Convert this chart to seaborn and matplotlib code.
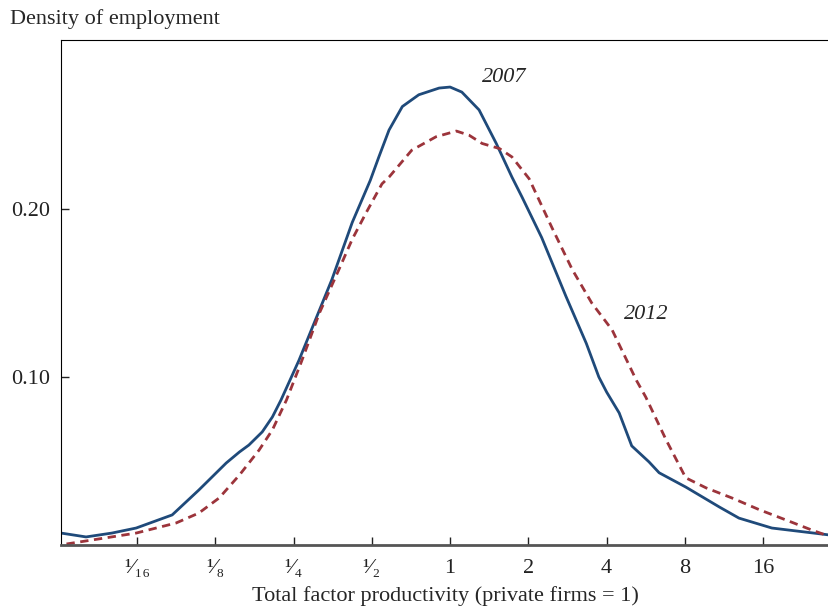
import numpy as np
import pandas as pd
import matplotlib
matplotlib.use("Agg")
import matplotlib.pyplot as plt
import seaborn as sns

# log2 of TFP (private firms = 1) and employment density
x_2007 = [-4.97, -4.65, -4.32, -4.01, -3.55, -3.21, -2.86, -2.69, -2.57, -2.40,
          -2.27, -2.16, -1.93, -1.72, -1.51, -1.25, -1.02, -0.91, -0.78, -0.61,
          -0.40, -0.14, 0.0, 0.15, 0.37, 0.59, 0.79, 0.92, 1.17, 1.48,
          1.74, 1.90, 2.0, 2.16, 2.32, 2.54, 2.67, 3.01, 3.44, 3.69, 4.11, 4.84]
y_2007 = [0.0071, 0.0048, 0.0071, 0.0101, 0.0179, 0.0327, 0.0488, 0.0554, 0.0595, 0.0673,
          0.0762, 0.0863, 0.110, 0.134, 0.158, 0.192, 0.217, 0.231, 0.247, 0.261,
          0.268, 0.272, 0.2726, 0.2696, 0.259, 0.239, 0.219, 0.207, 0.183, 0.148,
          0.120, 0.100, 0.091, 0.0786, 0.059, 0.0495, 0.043, 0.0345, 0.0226, 0.016,
          0.0101, 0.006]

x_2012 = [-4.90, -4.57, -4.01, -3.50, -3.21, -2.95, -2.69, -2.44, -2.27, -2.09,
          -1.90, -1.67, -1.42, -1.25, -1.07, -0.87, -0.78, -0.49, -0.18, 0.08,
          0.24, 0.41, 0.63, 0.79, 1.01, 1.30, 1.56, 1.81, 2.07, 2.38,
          2.50, 2.76, 3.01, 3.27, 3.60, 3.95, 4.29, 4.62, 4.83]
y_2012 = [0.0006, 0.003, 0.0071, 0.0131, 0.019, 0.028, 0.0417, 0.0565, 0.0685, 0.0863,
          0.109, 0.138, 0.164, 0.182, 0.198, 0.215, 0.219, 0.235, 0.243, 0.2464,
          0.244, 0.239, 0.236, 0.231, 0.218, 0.189, 0.164, 0.144, 0.128, 0.098,
          0.088, 0.0625, 0.040, 0.034, 0.028, 0.021, 0.0149, 0.0089, 0.0054]

tick_pos = [-4, -3, -2, -1, 0, 1, 2, 3, 4]
tick_labels = ["\u00b9\u2044\u2081\u2086", "\u00b9\u2044\u2088", "\u00b9\u2044\u2084",
               "\u00b9\u2044\u2082", "1", "2", "4", "8", "16"]

df = pd.concat([
    pd.DataFrame({"tfp": np.power(2.0, x_2007), "density": y_2007, "year": "2007"}),
    pd.DataFrame({"tfp": np.power(2.0, x_2012), "density": y_2012, "year": "2012"}),
])

sns.set_style("white")
plt.rcParams["font.family"] = ["Liberation Serif", "DejaVu Serif"]

fig = plt.figure(figsize=(8.29, 6.09), dpi=100)
ax = fig.add_axes([0.0736, 0.1051, 0.9264, 0.8292])

sns.lineplot(data=df, x="tfp", y="density", hue="year", style="year",
             palette={"2007": "#1f4a7a", "2012": "#9c343b"},
             dashes={"2007": "", "2012": (3, 2)}, linewidth=2.0,
             legend=False, ax=ax, sort=False)

ax.set_xscale("log", base=2)
ax.set_xlim(2 ** -4.97, 2 ** 4.84)
ax.set_ylim(0, 0.3006)
ax.set_xticks([2.0 ** p for p in tick_pos])
ax.set_xticklabels(tick_labels)
ax.xaxis.set_minor_locator(matplotlib.ticker.NullLocator())
ax.set_yticks([0.10, 0.20])
ax.set_yticklabels(["0.10", "0.20"])
ax.tick_params(axis="both", direction="in", length=6, width=1, labelsize=16,
               colors="#222222", bottom=True, left=True)
ax.tick_params(axis="x", pad=10)
ax.tick_params(axis="y", pad=8)

ax.spines["right"].set_visible(False)
ax.spines["left"].set_color("black")
ax.spines["top"].set_color("black")
ax.spines["bottom"].set_color("#555555")
ax.spines["bottom"].set_linewidth(2)

ax.set_xlabel("Total factor productivity (private firms = 1)", fontsize=16, labelpad=6)
ax.set_ylabel("")
fig.text(0.012, 0.968, "Density of employment", fontsize=16, va="center", ha="left")

ax.text(2 ** 0.69, 0.278, "2007", fontsize=16, style="italic", ha="center", va="center")
ax.text(2 ** 2.5, 0.137, "2012", fontsize=16, style="italic", ha="center", va="center")

fig.savefig("out.png", dpi=100)
